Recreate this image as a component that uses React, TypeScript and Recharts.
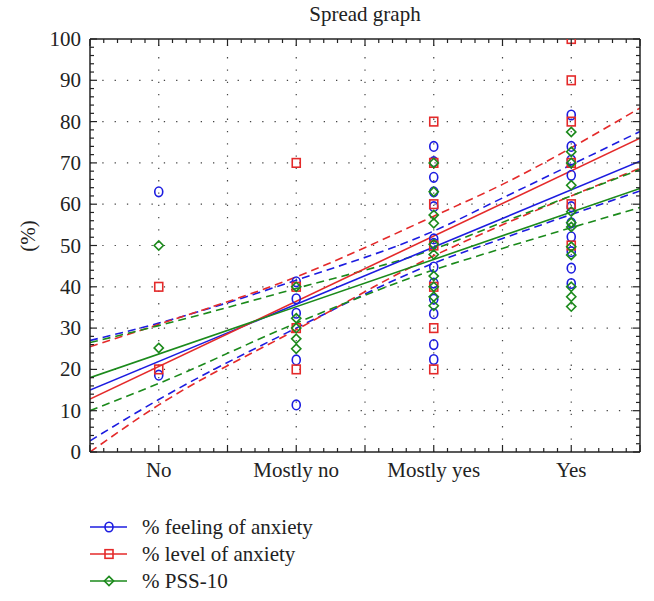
import React from 'react';
import { ComposedChart, Line, Scatter, XAxis, YAxis, ReferenceLine } from 'recharts';

// categories on the x axis (x = 1..4)
const categories = ['No', 'Mostly no', 'Mostly yes', 'Yes'];

// observed values per category (No, Mostly no, Mostly yes, Yes)
const feelingValues = [
  [63, 18.6],
  [41.2, 37.1, 33.6, 22.3, 11.4],
  [74, 70.3, 66.5, 63, 59.4, 51.6, 50.5, 44.8, 40.9, 37, 33.5, 26, 22.4],
  [81.6, 74, 70.7, 67, 59.4, 55.5, 52.1, 48.5, 44.5, 40.8],
];
const levelValues = [
  [40, 20],
  [70, 40, 30, 20],
  [80, 70, 60, 50, 40, 30, 20],
  [100, 90, 80, 70, 60, 50],
];
const pssValues = [
  [50, 25.2],
  [40, 32.4, 30, 27.4, 25],
  [70, 63, 57.4, 55.4, 50.3, 47.8, 42.6, 40, 37.6, 35.4],
  [77.5, 72.7, 70, 64.6, 58.2, 55.5, 54.5, 49.7, 47.7, 40, 37.6, 35.2],
];

// regression lines (read at x = 0.5 and 4.5)
const fitX = [0.5, 4.5];
const feelingFit = [15, 70.4];
const levelFit = [12.8, 76];
const pssFit = [18, 63.8];

// confidence bands
const bandX = [0.5, 1, 2, 3, 3.5, 4.5];
const feelingUpper = [27, 31.2, 41.6, 53.5, 61.5, 77.6];
const feelingLower = [2.7, 12.7, 30, 45.7, 51.7, 63.2];
const levelUpper = [25.5, 30.9, 42.4, 57.1, 64.8, 83.3];
const levelLower = [0, 11.4, 29.6, 47.5, 55, 68.7];
const pssUpper = [26.5, 30.6, 39.6, 49.1, 55.6, 68.4];
const pssLower = [10, 16.6, 31.2, 44.1, 49.3, 59.2];

const xGrid = [1, 1.5, 2, 2.5, 3, 3.5, 4];
const yGrid = [10, 20, 30, 40, 50, 60, 70, 80, 90];

const xTicks = Array.from({ length: 41 }, (_, i) => +(0.5 + i * 0.1).toFixed(1));
const yTicks = Array.from({ length: 51 }, (_, i) => i * 2);

const BLUE = '#1c1ce0';
const RED = '#e42a2a';
const GREEN = '#1b8a1b';
const INK = '#222';
const FONT = '"Liberation Serif", "DejaVu Serif", serif';
const FS = 21;

const toPoints = (groups: number[][]) =>
  groups.flatMap((vals, i) => vals.map((y) => ({ x: i + 1, y })));
const toLine = (xs: number[], ys: number[]) => xs.map((x, i) => ({ x, y: ys[i] }));

const isMajorX = (v: number) => Math.abs(v * 2 - Math.round(v * 2)) < 1e-6;

const BottomTick = (props: any) => {
  const { x, y, payload } = props;
  const v = payload.value;
  const major = isMajorX(v);
  const idx = Math.round(v) - 1;
  const label = Math.abs(v - Math.round(v)) < 1e-6 ? categories[idx] : null;
  return (
    <g>
      <line x1={x} x2={x} y1={y} y2={y - (major ? 7 : 4)} stroke={INK} strokeWidth={1.2} />
      {label && (
        <text x={x} y={y + 25} textAnchor="middle" fontSize={FS} fontFamily={FONT} fill={INK}>
          {label}
        </text>
      )}
    </g>
  );
};

const TopTick = (props: any) => {
  const { x, y, payload } = props;
  const major = isMajorX(payload.value);
  return <line x1={x} x2={x} y1={y} y2={y + (major ? 7 : 4)} stroke={INK} strokeWidth={1.2} />;
};

const LeftTick = (props: any) => {
  const { x, y, payload } = props;
  const v = payload.value;
  const major = v % 10 === 0;
  return (
    <g>
      <line x1={x} x2={x + (major ? 7 : 4)} y1={y} y2={y} stroke={INK} strokeWidth={1.2} />
      {major && (
        <text x={x - 9} y={y + 7} textAnchor="end" fontSize={FS} fontFamily={FONT} fill={INK}>
          {v}
        </text>
      )}
    </g>
  );
};

const RightTick = (props: any) => {
  const { x, y, payload } = props;
  const major = payload.value % 10 === 0;
  return <line x1={x} x2={x - (major ? 7 : 4)} y1={y} y2={y} stroke={INK} strokeWidth={1.2} />;
};

const CircleMark = (props: any) => (
  <ellipse cx={props.cx} cy={props.cy} rx={4} ry={4.8} fill="none" stroke={BLUE} strokeWidth={1.6} />
);
const SquareMark = (props: any) => (
  <rect x={props.cx - 4} y={props.cy - 4.3} width={8} height={8.6} fill="none" stroke={RED} strokeWidth={1.6} />
);
const DiamondMark = (props: any) => {
  const { cx, cy } = props;
  return (
    <polygon
      points={`${cx},${cy - 4.6} ${cx + 4.6},${cy} ${cx},${cy + 4.6} ${cx - 4.6},${cy}`}
      fill="none"
      stroke={GREEN}
      strokeWidth={1.6}
    />
  );
};

const legendItems = [
  { label: '% feeling of anxiety', color: BLUE, mark: 'circle' },
  { label: '% level of anxiety', color: RED, mark: 'square' },
  { label: '% PSS-10', color: GREEN, mark: 'diamond' },
];

const Legend = () => (
  <svg width={400} height={89} style={{ position: 'absolute', left: 0, top: 512 }}>
    {legendItems.map((it, i) => {
      const cy = 15 + i * 27;
      return (
        <g key={it.label}>
          <line x1={90} x2={127} y1={cy} y2={cy} stroke={it.color} strokeWidth={1.4} />
          {it.mark === 'circle' && <CircleMark cx={109} cy={cy} />}
          {it.mark === 'square' && <SquareMark cx={109} cy={cy} />}
          {it.mark === 'diamond' && <DiamondMark cx={109} cy={cy} />}
          <text x={142} y={cy + 7} fontSize={FS} fontFamily={FONT} fill={INK}>
            {it.label}
          </text>
        </g>
      );
    })}
  </svg>
);

const dash = '8 5';

export default function App() {
  const lines = [
    { data: toLine(bandX, feelingUpper), color: BLUE, dashed: true },
    { data: toLine(bandX, feelingLower), color: BLUE, dashed: true },
    { data: toLine(bandX, levelUpper), color: RED, dashed: true },
    { data: toLine(bandX, levelLower), color: RED, dashed: true },
    { data: toLine(bandX, pssUpper), color: GREEN, dashed: true },
    { data: toLine(bandX, pssLower), color: GREEN, dashed: true },
    { data: toLine(fitX, feelingFit), color: BLUE, dashed: false },
    { data: toLine(fitX, levelFit), color: RED, dashed: false },
    { data: toLine(fitX, pssFit), color: GREEN, dashed: false },
  ];

  return (
    <div style={{ position: 'absolute', left: 0, top: 0, width: 654, height: 601, background: '#fff' }}>
      <div
        style={{
          position: 'absolute',
          left: 90,
          width: 550,
          top: 2,
          textAlign: 'center',
          fontFamily: FONT,
          fontSize: FS,
          color: INK,
        }}
      >
        Spread graph
      </div>
      <div
        style={{
          position: 'absolute',
          left: 28,
          top: 236,
          transform: 'translate(-50%, -50%) rotate(-90deg)',
          fontFamily: FONT,
          fontSize: FS,
          color: INK,
          whiteSpace: 'nowrap',
        }}
      >
        (%)
      </div>
      <ComposedChart
        width={654}
        height={490}
        margin={{ top: 38, right: 13, bottom: 0, left: 0 }}
        style={{ position: 'absolute', left: 0, top: 0 }}
      >
        <XAxis
          xAxisId="b"
          type="number"
          dataKey="x"
          domain={[0.5, 4.5]}
          ticks={xTicks}
          interval={0}
          allowDataOverflow
          height={38}
          tickLine={false}
          tickSize={0}
          tickMargin={0}
          tick={<BottomTick />}
          axisLine={{ stroke: INK, strokeWidth: 1.5 }}
        />
        <XAxis
          xAxisId="t"
          orientation="top"
          type="number"
          dataKey="x"
          domain={[0.5, 4.5]}
          ticks={xTicks}
          interval={0}
          allowDataOverflow
          height={1}
          tickLine={false}
          tickSize={0}
          tickMargin={0}
          tick={<TopTick />}
          axisLine={{ stroke: INK, strokeWidth: 1.5 }}
        />
        <YAxis
          yAxisId="l"
          type="number"
          dataKey="y"
          domain={[0, 100]}
          ticks={yTicks}
          interval={0}
          allowDataOverflow
          width={90}
          tickLine={false}
          tickSize={0}
          tickMargin={0}
          tick={<LeftTick />}
          axisLine={{ stroke: INK, strokeWidth: 1.5 }}
        />
        <YAxis
          yAxisId="r"
          orientation="right"
          type="number"
          dataKey="y"
          domain={[0, 100]}
          ticks={yTicks}
          interval={0}
          allowDataOverflow
          width={1}
          tickLine={false}
          tickSize={0}
          tickMargin={0}
          tick={<RightTick />}
          axisLine={{ stroke: INK, strokeWidth: 1.5 }}
        />
        {xGrid.map((v) => (
          <ReferenceLine
            key={'gx' + v}
            x={v}
            xAxisId="b"
            yAxisId="l"
            stroke="#444"
            strokeWidth={1.2}
            strokeDasharray="1.3 11"
          />
        ))}
        {yGrid.map((v) => (
          <ReferenceLine
            key={'gy' + v}
            y={v}
            xAxisId="b"
            yAxisId="l"
            stroke="#444"
            strokeWidth={1.2}
            strokeDasharray="1.3 11"
          />
        ))}
        <Scatter data={toPoints(feelingValues)} xAxisId="b" yAxisId="l" shape={<CircleMark />} isAnimationActive={false} />
        <Scatter data={toPoints(levelValues)} xAxisId="b" yAxisId="l" shape={<SquareMark />} isAnimationActive={false} />
        <Scatter data={toPoints(pssValues)} xAxisId="b" yAxisId="l" shape={<DiamondMark />} isAnimationActive={false} />
        {lines.map((l, i) => (
          <Line
            key={i}
            data={l.data}
            dataKey="y"
            xAxisId="b"
            yAxisId="l"
            type={l.dashed ? 'monotone' : 'linear'}
            stroke={l.color}
            strokeWidth={1.6}
            strokeDasharray={l.dashed ? dash : undefined}
            dot={false}
            activeDot={false}
            isAnimationActive={false}
          />
        ))}
      </ComposedChart>
      <Legend />
    </div>
  );
}
